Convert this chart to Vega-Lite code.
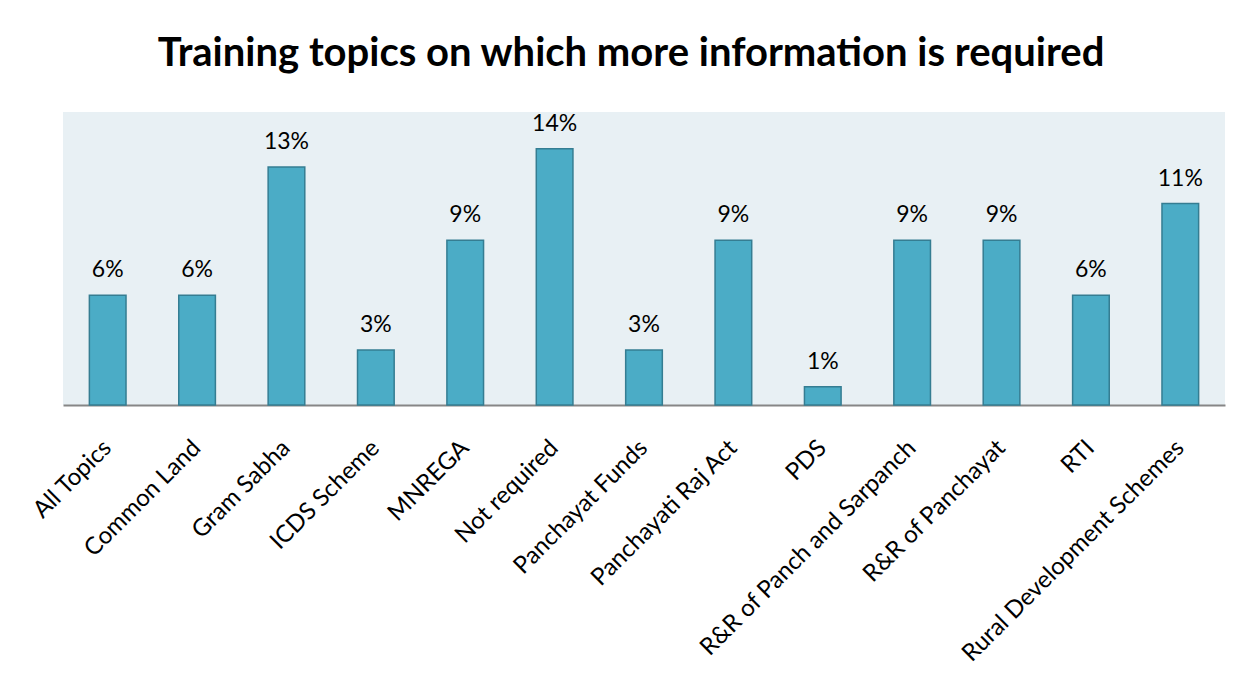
{
  "$schema": "https://vega.github.io/schema/vega-lite/v6.json",
  "width": 1162,
  "height": 293,
  "autosize": {"type": "none"},
  "padding": {"left": 63, "top": 112, "right": 27, "bottom": 293},
  "background": "white",
  "title": {
    "text": "Training topics on which more information is required",
    "font": "Lato",
    "fontSize": 40,
    "fontWeight": "bold",
    "color": "#000000",
    "anchor": "middle",
    "baseline": "alphabetic",
    "offset": 6,
    "dx": -13
  },
  "config": {
    "view": {"fill": "#E8F0F4", "stroke": null},
    "font": "Lato"
  },
  "data": {
    "values": [
      {"topic": "All Topics", "pct": 6},
      {"topic": "Common Land", "pct": 6},
      {"topic": "Gram Sabha", "pct": 13},
      {"topic": "ICDS Scheme", "pct": 3},
      {"topic": "MNREGA", "pct": 9},
      {"topic": "Not required", "pct": 14},
      {"topic": "Panchayat Funds", "pct": 3},
      {"topic": "Panchayati Raj Act", "pct": 9},
      {"topic": "PDS", "pct": 1},
      {"topic": "R&R of Panch and Sarpanch", "pct": 9},
      {"topic": "R&R of Panchayat", "pct": 9},
      {"topic": "RTI", "pct": 6},
      {"topic": "Rural Development Schemes", "pct": 11}
    ]
  },
  "encoding": {
    "x": {
      "field": "topic",
      "type": "nominal",
      "sort": null,
      "scale": {"paddingInner": 0.59, "paddingOuter": 0.295},
      "axis": {
        "title": null,
        "labelAngle": -45,
        "labelAlign": "right",
        "labelBaseline": "middle",
        "labelFont": "Lato",
        "labelFontSize": 24,
        "labelColor": "#000000",
        "labelPadding": 39,
        "ticks": false,
        "domainColor": "#868686",
        "domainWidth": 2,
        "labelOverlap": false,
        "labelLimit": 500
      }
    },
    "y": {
      "field": "pct",
      "type": "quantitative",
      "scale": {"domain": [0, 16], "nice": false},
      "axis": null
    }
  },
  "layer": [
    {
      "mark": {"type": "bar", "color": "#4BACC6", "stroke": "#357D92", "strokeWidth": 1.5}
    },
    {
      "mark": {"type": "text", "baseline": "alphabetic", "dy": -18, "fontSize": 23, "font": "Lato", "color": "#000000"},
      "encoding": {
        "text": {"field": "label", "type": "nominal"}
      },
      "transform": [{"calculate": "datum.pct + '%'", "as": "label"}]
    }
  ]
}
